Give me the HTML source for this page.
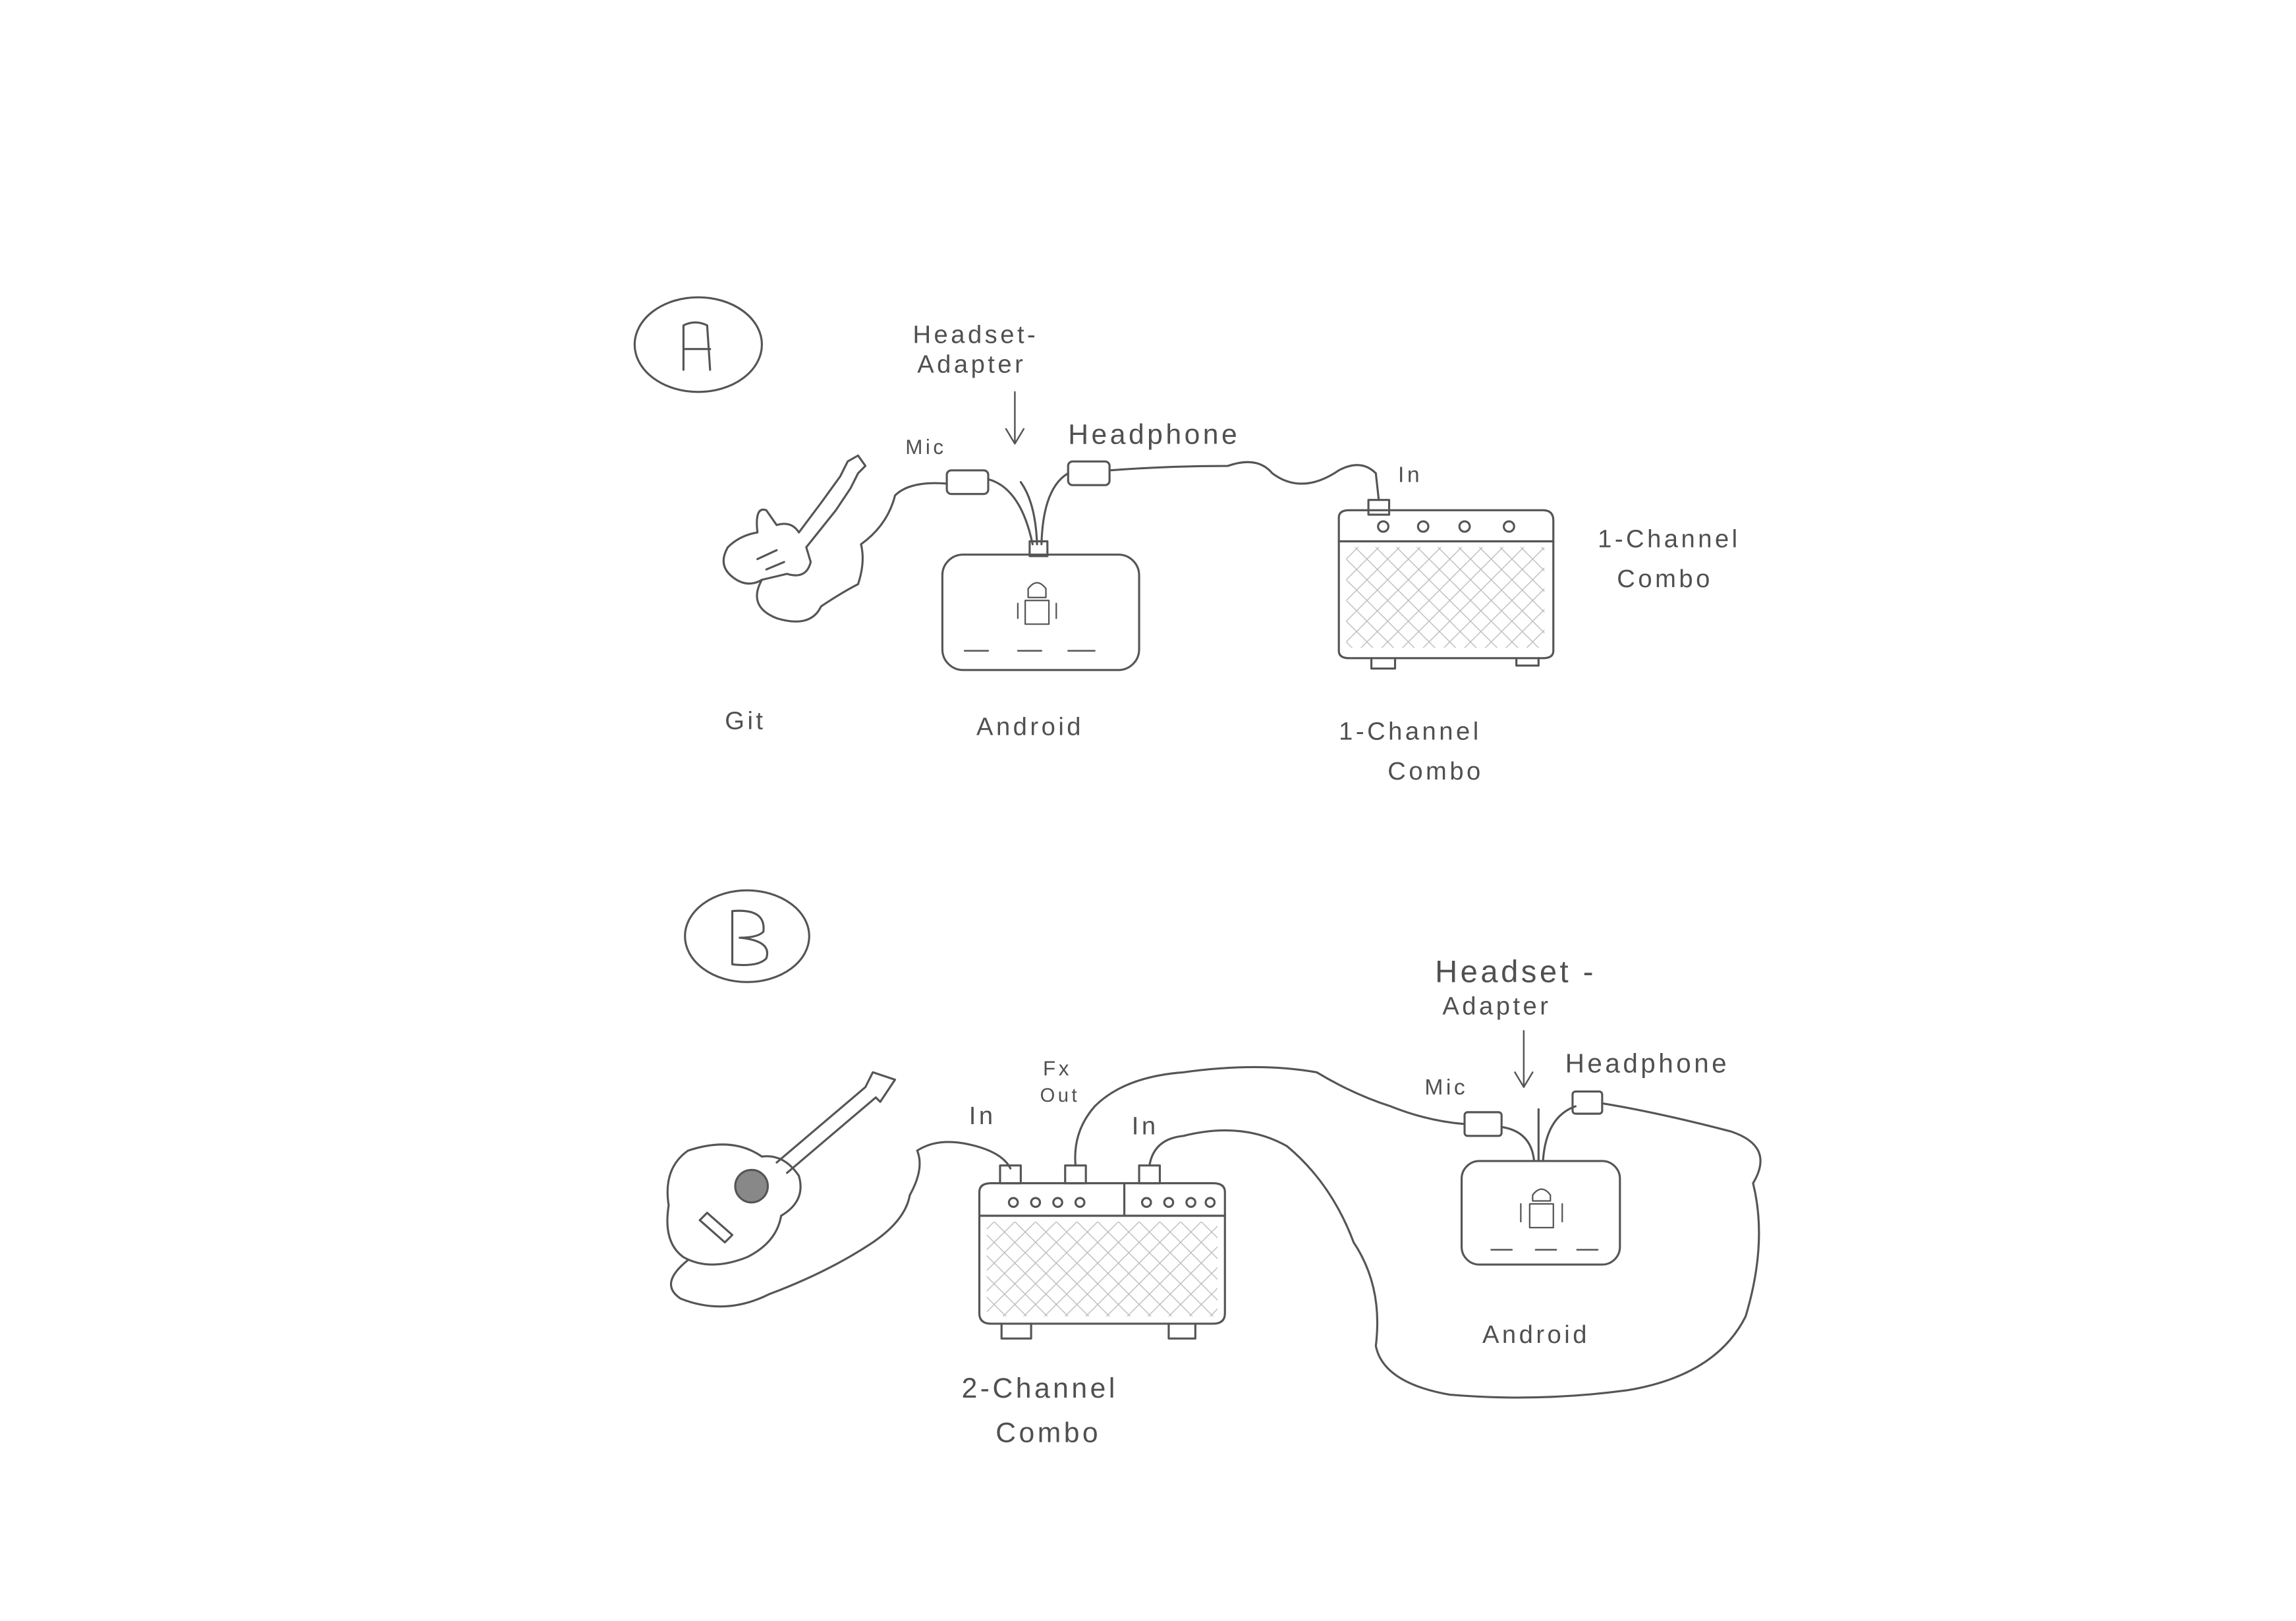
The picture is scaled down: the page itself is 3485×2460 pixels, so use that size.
<!DOCTYPE html>
<html><head><meta charset="utf-8"><style>
html,body{margin:0;padding:0;background:#fff;}
svg{display:block;}
text{font-family:"Liberation Sans",sans-serif;fill:#505050;font-size:17px;letter-spacing:2px;}
</style></head><body>
<svg width="3485" height="2460" viewBox="0 0 1552 1096" preserveAspectRatio="none" xmlns="http://www.w3.org/2000/svg">
<defs>
<pattern id="hatch" width="14" height="14" patternUnits="userSpaceOnUse">
<path d="M0 0L14 14M14 0L0 14" stroke="#bbb" stroke-width="0.6"/>
</pattern>
</defs>
<rect width="1552" height="1096" fill="#fff"/>
<g fill="none" stroke="#555" stroke-width="1.4" stroke-linecap="round" stroke-linejoin="round">
<ellipse cx="472" cy="233" rx="43" ry="32"/>
<path d="M462 250L462 220Q470 216 478 220L480 250M462 236L480 236"/>
<path d="M492 370Q485 382 495 390Q505 398 515 392L532 388Q545 392 548 380L545 370L565 345L575 330L580 320L585 315L580 308L573 312L568 322L555 340L540 360Q535 352 525 355L518 345Q510 342 512 360Q500 362 492 370Z"/>
<path d="M512 378L525 372M518 385L530 380"/>
<path d="M515 392Q505 410 525 418Q548 425 555 410Q570 400 580 395Q585 380 582 368Q600 355 605 335Q615 325 640 327"/>
<rect x="640" y="318" width="28" height="16" rx="3"/>
<rect x="722" y="312" width="28" height="16" rx="3"/>
<path d="M668 324Q690 330 698 368M722 320Q705 330 704 368M690 326Q700 340 701 368"/>
<path d="M696 366L708 366L708 376L696 376Z"/>
<rect x="637" y="375" width="133" height="78" rx="14"/>
<path d="M652 440L668 440M688 440L704 440M722 440L740 440" stroke-width="1.1"/>
<path d="M695 398Q701 390 707 398L707 404L695 404Z M693 406L709 406L709 422L693 422Z M688 408L688 418M714 408L714 418" stroke-width="1"/>
<path d="M750 318Q790 315 830 315Q850 308 860 320Q880 335 905 318Q920 310 930 320L932 338"/>
<rect x="925" y="338" width="14" height="10"/>
<path d="M905 350Q905 345 912 345L1043 345Q1050 345 1050 352L1050 440Q1050 445 1043 445L912 445Q905 445 905 440Z"/>
<path d="M905 366L1050 366"/>
<circle cx="935" cy="356" r="3.5"/><circle cx="962" cy="356" r="3.5"/><circle cx="990" cy="356" r="3.5"/><circle cx="1020" cy="356" r="3.5"/>
<rect x="910" y="370" width="134" height="68" fill="url(#hatch)" stroke="none"/>
<path d="M927 445L927 452L943 452L943 445M1025 445L1025 450L1040 450L1040 445"/>
<path d="M686 265L686 300M680 290L686 300L692 290" stroke-width="1.1"/>

<ellipse cx="505" cy="633" rx="42" ry="31"/>
<path d="M495 652L495 616Q518 614 516 630Q512 634 500 634Q522 636 518 648Q512 654 495 652Z"/>
<path d="M465 778Q448 790 452 815Q448 840 462 850Q480 860 505 850Q525 840 528 822Q545 812 540 795Q530 780 515 782Q495 768 465 778Z"/>
<circle cx="508" cy="802" r="11" fill="#888"/>
<path d="M478 820L495 835L490 840L473 825Z"/>
<path d="M525 786L585 735M532 793L592 742M585 735L590 725L605 730L595 745L592 742"/>
<path d="M465 852Q445 868 460 878Q490 890 520 875Q560 860 590 840Q612 825 615 808Q625 790 620 778Q635 768 660 775Q678 780 683 790"/>
<rect x="676" y="788" width="14" height="12"/>
<rect x="720" y="788" width="14" height="12"/>
<rect x="770" y="788" width="14" height="12"/>
<path d="M662 806Q662 800 670 800L820 800Q828 800 828 806L828 888Q828 895 820 895L670 895Q662 895 662 888Z"/>
<path d="M662 822L828 822M760 800L760 822"/>
<circle cx="685" cy="813" r="3"/><circle cx="700" cy="813" r="3"/><circle cx="715" cy="813" r="3"/><circle cx="730" cy="813" r="3"/>
<circle cx="775" cy="813" r="3"/><circle cx="790" cy="813" r="3"/><circle cx="805" cy="813" r="3"/><circle cx="818" cy="813" r="3"/>
<rect x="667" y="826" width="156" height="64" fill="url(#hatch)" stroke="none"/>
<path d="M677 895L677 905L697 905L697 895M790 895L790 905L808 905L808 895"/>
<path d="M727 788Q725 765 740 748Q760 728 800 725Q850 718 890 725Q915 740 940 748Q965 758 990 760"/>
<path d="M777 788Q780 770 800 768Q840 758 870 775Q900 800 915 840Q935 870 930 910Q935 935 980 943Q1040 948 1100 940Q1160 930 1180 890Q1195 840 1185 800Q1200 775 1170 765Q1120 752 1083 746"/>
<rect x="990" y="752" width="25" height="16" rx="2"/>
<rect x="1063" y="738" width="20" height="15" rx="2"/>
<path d="M1015 762Q1035 765 1037 785M1065 748Q1045 755 1043 785M1040 750L1040 785"/>
<rect x="988" y="785" width="107" height="70" rx="12"/>
<path d="M1008 845L1022 845M1038 845L1052 845M1066 845L1080 845" stroke-width="1.1"/>
<path d="M1036 808Q1042 800 1048 808L1048 812L1036 812Z M1034 814L1050 814L1050 830L1034 830Z M1028 814L1028 826M1056 814L1056 826" stroke-width="1"/>
<path d="M1030 697L1030 735M1024 725L1030 735L1036 725" stroke-width="1.1"/>
</g>
<text x="617" y="232">Headset-</text>
<text x="620" y="252">Adapter</text>
<text x="612" y="307" style="font-size:14px">Mic</text>
<text x="722" y="300" style="font-size:19px">Headphone</text>
<text x="945" y="326" style="font-size:15px">In</text>
<text x="1080" y="370">1-Channel</text>
<text x="1093" y="397">Combo</text>
<text x="490" y="493">Git</text>
<text x="660" y="497">Android</text>
<text x="905" y="500">1-Channel</text>
<text x="938" y="527">Combo</text>
<text x="970" y="664" style="font-size:21px">Headset -</text>
<text x="975" y="686">Adapter</text>
<text x="963" y="740" style="font-size:15px">Mic</text>
<text x="1058" y="725" style="font-size:18px">Headphone</text>
<text x="1002" y="908">Android</text>
<text x="655" y="760">In</text>
<text x="705" y="727" style="font-size:14px">Fx</text>
<text x="703" y="745" style="font-size:13px">Out</text>
<text x="765" y="767">In</text>
<text x="650" y="945" style="font-size:19px">2-Channel</text>
<text x="673" y="975" style="font-size:19px">Combo</text>
</svg>
</body></html>
